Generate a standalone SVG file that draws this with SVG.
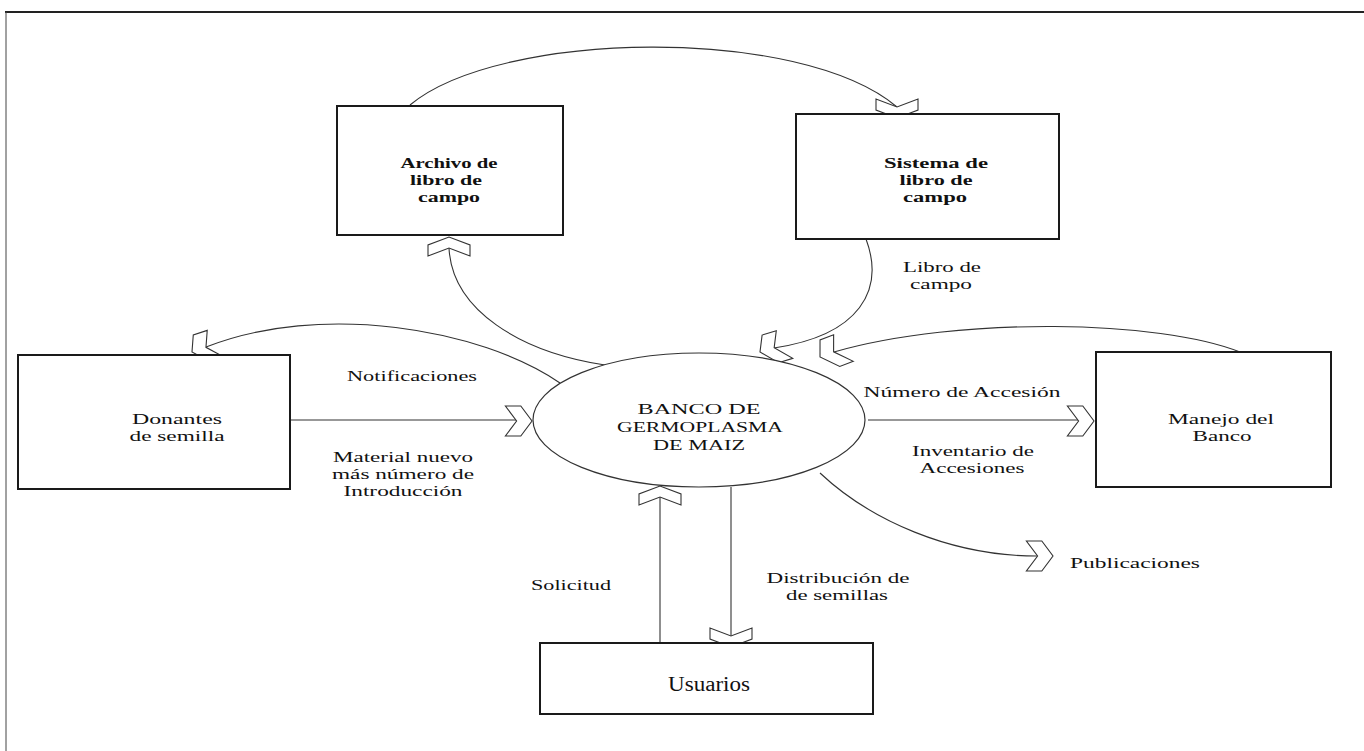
<svg xmlns="http://www.w3.org/2000/svg" xmlns:xlink="http://www.w3.org/1999/xlink" width="1364" height="751" viewBox="0 0 1364 751">
<style>
.box{fill:#fff;stroke:#1a1a1a;stroke-width:2}
.ell{fill:#fff;stroke:#333;stroke-width:1.2}
.con{fill:none;stroke:#333;stroke-width:1.1}
.chev{fill:#fff;stroke:#333;stroke-width:1.1;vector-effect:non-scaling-stroke;stroke-linejoin:miter}
text{font-family:"Liberation Serif","Times New Roman",serif;fill:#111;text-anchor:middle}
.t{font-size:15px}
.b{font-size:15px;font-weight:bold}
.u{font-size:20px}
</style>
<defs>
<path id="chev" class="chev" d="M-19,-15 L-8,-15 L0,0 L-8,15 L-19,15 L-11,0 Z"/>
</defs>
<rect width="1364" height="751" fill="#fff"/>
<g id="frame">
<line x1="5" y1="12" x2="1364" y2="12" stroke="#222" stroke-width="2"/>
<line x1="6" y1="12" x2="6" y2="751" stroke="#444" stroke-width="1"/>
</g>
<g id="connectors">
<path class="con" d="M410,105 C500,30 800,25 897,107"/>
<path class="con" d="M605,365 C520,352 452,310 449,248"/>
<path class="con" d="M866,239 C885,290 860,335 774,348"/>
<path class="con" d="M1240,352 C1160,320 960,316 834,352"/>
<path class="con" d="M560,383 C480,328 320,302 206,347"/>
<path class="con" d="M820,473 C870,520 950,556 1037,556"/>
<path class="con" d="M290,420 L517,420"/>
<path class="con" d="M868,420 L1078,420"/>
<path class="con" d="M660,643 L660,497" stroke="#555"/>
<path class="con" d="M731,487 L731,636" stroke="#555"/>
<use xlink:href="#chev" transform="translate(532,421) scale(1.4,1)"/>
<use xlink:href="#chev" transform="translate(1094,421) scale(1.4,1)"/>
<use xlink:href="#chev" transform="translate(1053,556) scale(1.4,1)"/>
<use xlink:href="#chev" transform="translate(660,486) scale(1.4,1) rotate(-90)"/>
<use xlink:href="#chev" transform="translate(731,647) scale(1.4,1) rotate(90)"/>
<use xlink:href="#chev" transform="translate(897,118) scale(1.4,1) rotate(90)"/>
<use xlink:href="#chev" transform="translate(449,237) scale(1.4,1) rotate(-90)"/>
<use xlink:href="#chev" transform="translate(192,352) scale(1.4,1) rotate(155)"/>
<use xlink:href="#chev" transform="translate(760,352) scale(1.4,1) rotate(157)"/>
<use xlink:href="#chev" transform="translate(820,357) scale(1.4,1) rotate(152)"/>
</g>
<g id="archivo">
<rect class="box" x="337" y="106" width="226" height="129"/>
<text class="b" x="449" y="168" textLength="97" lengthAdjust="spacingAndGlyphs">Archivo de</text>
<text class="b" x="446" y="185" textLength="72" lengthAdjust="spacingAndGlyphs">libro de</text>
<text class="b" x="449" y="202" textLength="62" lengthAdjust="spacingAndGlyphs">campo</text>
</g>
<g id="sistema">
<rect class="box" x="796" y="114" width="263" height="125"/>
<text class="b" x="936" y="168" textLength="104" lengthAdjust="spacingAndGlyphs">Sistema de</text>
<text class="b" x="936" y="185" textLength="73" lengthAdjust="spacingAndGlyphs">libro de</text>
<text class="b" x="935" y="202" textLength="64" lengthAdjust="spacingAndGlyphs">campo</text>
</g>
<g id="donantes">
<rect class="box" x="18" y="355" width="272" height="134"/>
<text class="t" x="177" y="424" textLength="90" lengthAdjust="spacingAndGlyphs">Donantes</text>
<text class="t" x="177" y="441" textLength="95" lengthAdjust="spacingAndGlyphs">de semilla</text>
</g>
<g id="manejo">
<rect class="box" x="1096" y="352" width="235" height="135"/>
<text class="t" x="1221" y="424" textLength="106" lengthAdjust="spacingAndGlyphs">Manejo del</text>
<text class="t" x="1222" y="441" textLength="59" lengthAdjust="spacingAndGlyphs">Banco</text>
</g>
<g id="usuarios">
<rect class="box" x="540" y="643" width="333" height="71"/>
<text class="u" x="709" y="691" textLength="82" lengthAdjust="spacingAndGlyphs">Usuarios</text>
</g>
<g id="banco">
<ellipse class="ell" cx="699" cy="420" rx="166" ry="67"/>
<text class="t" x="699" y="414" textLength="123" lengthAdjust="spacingAndGlyphs">BANCO DE</text>
<text class="t" x="700" y="432" textLength="166" lengthAdjust="spacingAndGlyphs">GERMOPLASMA</text>
<text class="t" x="699" y="450" textLength="92" lengthAdjust="spacingAndGlyphs">DE MAIZ</text>
</g>
<g id="labels">
<text class="t" x="942" y="272" textLength="78" lengthAdjust="spacingAndGlyphs">Libro de</text>
<text class="t" x="941" y="289" textLength="62" lengthAdjust="spacingAndGlyphs">campo</text>
<text class="t" x="412" y="381" textLength="130" lengthAdjust="spacingAndGlyphs">Notificaciones</text>
<text class="t" x="403" y="462" textLength="140" lengthAdjust="spacingAndGlyphs">Material nuevo</text>
<text class="t" x="403" y="479" textLength="142" lengthAdjust="spacingAndGlyphs">más número de</text>
<text class="t" x="403" y="496" textLength="119" lengthAdjust="spacingAndGlyphs">Introducción</text>
<text class="t" x="962" y="397" textLength="197" lengthAdjust="spacingAndGlyphs">Número de Accesión</text>
<text class="t" x="973" y="456" textLength="122" lengthAdjust="spacingAndGlyphs">Inventario de</text>
<text class="t" x="972" y="473" textLength="105" lengthAdjust="spacingAndGlyphs">Accesiones</text>
<text class="t" x="1135" y="568" textLength="130" lengthAdjust="spacingAndGlyphs">Publicaciones</text>
<text class="t" x="571" y="590" textLength="80" lengthAdjust="spacingAndGlyphs">Solicitud</text>
<text class="t" x="838" y="583" textLength="143" lengthAdjust="spacingAndGlyphs">Distribución de</text>
<text class="t" x="837" y="600" textLength="102" lengthAdjust="spacingAndGlyphs">de semillas</text>
</g>
</svg>
